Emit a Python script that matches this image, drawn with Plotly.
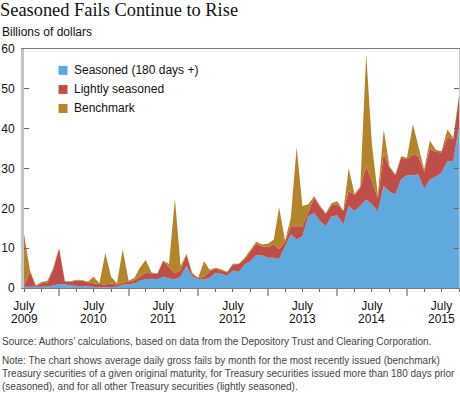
import plotly.graph_objects as go
import pandas as pd

# ---------------- data (billions of dollars, monthly, Jul 2009 - Oct 2015) ----------------
months = pd.date_range("2009-07-01", "2015-10-01", freq="MS")

seasoned = [0.3, 0.3, 0.2, 0.3, 0.4, 0.6, 1.0, 0.9, 0.6, 0.5, 0.4, 0.3,
            0.3, 0.2, 0.2, 0.3, 0.3, 0.8, 1.0, 1.1, 1.8, 2.2, 2.3, 2.2,
            2.8, 2.4, 2.2, 2.9, 5.6, 2.8, 2.3, 2.1, 2.6, 3.8, 3.6, 3.1,
            4.4, 4.0, 5.9, 6.7, 8.2, 8.2, 7.6, 7.6, 7.3, 10.3, 13.4, 12.2,
            13.0, 18.0, 18.8, 16.8, 15.5, 18.0, 18.2, 15.9, 20.6, 19.3, 20.6, 22.2,
            21.0, 19.2, 25.6, 24.2, 23.5, 27.3, 28.3, 28.3, 28.5, 24.9, 27.2, 28.0,
            28.9, 31.8, 31.9, 40.5]

lightly = [0.3, 3.7, 0.3, 0.9, 0.9, 3.9, 9.0, 0.6, 0.9, 1.4, 1.4, 1.1,
           0.9, 0.8, 0.7, 0.8, 0.6, 0.6, 0.6, 0.9, 1.0, 1.6, 1.4, 1.3,
           3.9, 2.9, 1.5, 1.6, 2.8, 0.6, 0.2, 0.7, 1.6, 1.1, 0.8, 0.8,
           1.5, 2.0, 1.3, 2.6, 3.0, 2.3, 2.7, 3.4, 2.5, 1.4, 2.1, 3.3,
           2.5, 1.0, 4.0, 3.6, 3.1, 2.8, 2.8, 3.4, 3.8, 4.0, 4.6, 8.3,
           6.0, 3.3, 8.2, 6.2, 4.8, 5.4, 4.0, 5.2, 4.7, 4.3, 7.8, 6.2,
           5.1, 5.9, 5.5, 7.5]

benchmark = [13.0, 0.5, 0.2, 0.3, 0.5, 0.5, 0.1, 0.2, 0.2, 0.2, 0.2, 0.2,
             1.6, 0.2, 7.9, 1.7, 0.3, 8.3, 0.2, 0.6, 2.3, 3.2, 0.2, 0.2,
             0.2, 0.7, 18.7, 1.0, 0.2, 0.4, 0.1, 3.9, 0.4, 0.2, 0.3, 0.2,
             0.2, 0.1, 0.4, 0.4, 0.4, 0.4, 0.8, 1.2, 10.5, 0.2, 2.0, 19.9,
             5.1, 2.0, 0.3, 0.3, 0.2, 0.5, 0.8, 0.1, 5.6, 0.3, 0.3, 28.3,
             9.0, 1.0, 6.0, 0.2, 0.2, 0.4, 0.4, 7.6, 2.3, 0.6, 2.0, 0.5,
             0.3, 2.1, 0.3, 0.4]

series_names = ["Seasoned (180 days +)", "Lightly seasoned", "Benchmark"]
series_colors = ["#5eaade", "#bf4e4b", "#b3852b"]
label_years = [2009, 2010, 2011, 2012, 2013, 2014, 2015]
y_ticks = [0, 10, 20, 30, 40, 50, 60]

title_text = "Seasoned Fails Continue to Rise"
unit_text = "Billions of dollars"
source_text = ("Source: Authors\u2019 calculations, based on data from the Depository Trust "
               "and Clearing Corporation.")
note_lines = [
    "Note: The chart shows average daily gross fails by month for the most recently issued (benchmark)",
    "Treasury securities of a given original maturity, for Treasury securities issued more than 180 days prior",
    "(seasoned), and for all other Treasury securities (lightly seasoned).",
]

# ---------------- layout geometry (pixels) ----------------
W, H = 460, 397
L, R, T, B = 24, 458.7, 49.3, 288.5


def px(x):
    return (x - L) / (R - L)


def py(y):
    return (B - y) / (B - T)


SANS = "Liberation Sans, Arial, sans-serif"

fig = go.Figure()
for name, vals, col in zip(series_names, [seasoned, lightly, benchmark], series_colors):
    fig.add_trace(go.Scatter(
        x=months, y=vals, name=name, stackgroup="one", mode="lines",
        line=dict(width=0, color=col), fillcolor=col, showlegend=False,
        hoverinfo="x+y+name"))

# ticks: quarterly short ticks, July labels, long January ticks
major_vals, major_text, jan_vals = [], [], []
for d in pd.date_range("2009-07-01", "2015-10-01", freq="QS-JAN"):
    if d.month == 1:
        jan_vals.append(d)
    else:
        major_vals.append(d)
        major_text.append("July" if d.month == 7 and d.year in label_years else "")

fig.update_xaxes(
    range=[months[0], months[-1]], showgrid=False, zeroline=False,
    showline=True, linecolor="#7a7a7a", linewidth=1, mirror=True,
    tickmode="array", tickvals=major_vals, ticktext=major_text,
    ticks="outside", ticklen=3, tickcolor="#666", tickwidth=1,
    tickfont=dict(family=SANS, size=12, color="#111"),
    ticklabelstandoff=4,
    minor=dict(tickmode="array", tickvals=jan_vals, ticks="outside",
               ticklen=7, tickcolor="#a8a8a8", tickwidth=1.5, showgrid=False),
)
fig.update_yaxes(
    range=[0, 60], showgrid=False, zeroline=False,
    showline=True, linecolor="#c4c4c4", linewidth=3, mirror="ticks",
    tickmode="array", tickvals=y_ticks,
    ticks="inside", ticklen=5, tickcolor="#666", tickwidth=1,
    tickfont=dict(family=SANS, size=12, color="#111"),
    ticklabelstandoff=4,
)

annotations = [
    dict(text=unit_text, x=px(0), y=py(32.5), xanchor="left", yanchor="middle",
         font=dict(family=SANS, size=12, color="#111")),
    dict(text=source_text, x=px(0), y=py(341.7), xanchor="left", yanchor="middle",
         font=dict(family=SANS, size=10, color="#444")),
]
for k, line in enumerate(note_lines):
    annotations.append(dict(text=line, x=px(0), y=py(361 + 13 * k), xanchor="left",
                            yanchor="middle", font=dict(family=SANS, size=10, color="#444")))

# year line of the x tick labels
for yr in label_years:
    annotations.append(dict(text=str(yr), x=f"{yr}-07-01", xref="x", y=py(320),
                            xanchor="center", yanchor="middle",
                            font=dict(family=SANS, size=12, color="#111")))

shapes = []
row_y = [70.7, 89.8, 108.8]
for name, col, yc in zip(series_names, series_colors, row_y):
    shapes.append(dict(type="rect", xref="paper", yref="paper",
                       x0=px(58.5), x1=px(67.5), y0=py(yc + 4.5), y1=py(yc - 4.5),
                       fillcolor=col, line=dict(width=0)))
    annotations.append(dict(text=name, x=px(72), y=py(yc), xanchor="left", yanchor="middle",
                            font=dict(family=SANS, size=12, color="#111")))

for a in annotations:
    a.setdefault("xref", "paper")
    a.update(yref="paper", showarrow=False, align="left")

fig.update_layout(
    width=W, height=H,
    margin=dict(l=L, r=W - R, t=T, b=H - B, pad=0, autoexpand=False),
    paper_bgcolor="white", plot_bgcolor="white",
    title=dict(text=title_text, xref="container", yref="container",
               x=0, xanchor="left", y=1 - 10 / H, yanchor="middle",
               pad=dict(l=0, r=0, t=0, b=0),
               font=dict(family="Liberation Serif, Georgia, serif", size=18.4, color="#111")),
    annotations=annotations, shapes=shapes, showlegend=False,
)

fig.write_html("out.html", config={"displayModeBar": False},
               post_script="document.body.style.margin='0px';document.body.style.padding='0px';")
